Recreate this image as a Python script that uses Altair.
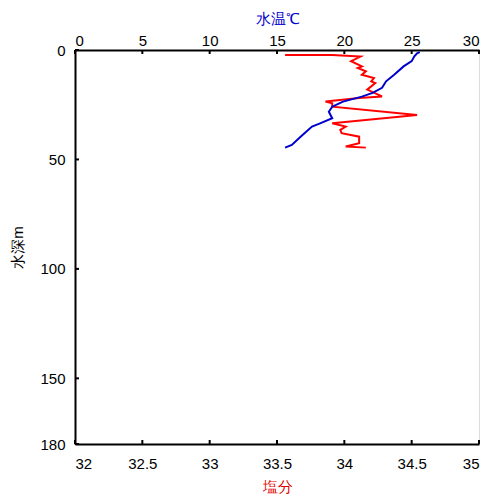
import altair as alt
import pandas as pd

# Water temperature profile (°C) vs depth (m)
temp_depth = [1.0, 1.5, 2.9, 5.1, 7.5, 11.3, 14.3, 17.3, 19.6, 21.3, 23.6, 25.9, 28.2, 31.2, 33.5, 35.0, 39.6, 43.4, 44.6]
temp_vals = [25.6, 25.4, 25.2, 25.0, 24.4, 23.7, 23.1, 22.8, 22.1, 21.3, 19.9, 19.1, 18.85, 19.1, 18.2, 17.6, 16.75, 16.1, 15.6]

# Salinity profile vs depth (m)
sal_depth = [2.3, 2.3, 3.0, 5.1, 7.5, 8.2, 9.7, 11.3, 12.8, 14.3, 15.1, 18.1, 21.2, 21.9, 23.5, 24.3, 25.9, 29.7, 33.5, 35.0, 36.5, 38.0, 39.6, 42.6, 44.1, 44.6]
sal_vals = [33.56, 33.91, 34.12, 34.05, 34.13, 34.10, 34.16, 34.13, 34.22, 34.20, 34.23, 34.17, 34.28, 34.11, 33.86, 33.91, 33.91, 34.54, 33.91, 34.01, 33.97, 33.98, 34.11, 34.11, 34.01, 34.16]

temp_ticks = [0, 5, 10, 15, 20, 25, 30]
sal_ticks = [32, 32.5, 33, 33.5, 34, 34.5, 35]
depth_ticks = [0, 50, 100, 150, 180]

W, H = 404, 394
FONT = "Liberation Sans"

temp_df = pd.DataFrame({"depth": temp_depth, "temp": temp_vals, "i": range(len(temp_vals))})
sal_df = pd.DataFrame({"depth": sal_depth, "sal": sal_vals, "i": range(len(sal_vals))})

y_scale = alt.Scale(domain=[0, 180], reverse=True, nice=False, zero=False)
t_scale = alt.Scale(domain=[0, 30], nice=False, zero=False)
s_scale = alt.Scale(domain=[32, 35], nice=False, zero=False)

y_axis = alt.Axis(values=depth_ticks, title="水深m", grid=False, ticks=False,
                  labelPadding=10, titlePadding=14, domainWidth=2, domainColor="black",
                  labelColor="black", titleColor="black", labelFontSize=15, titleFontSize=15,
                  labelFont=FONT, titleFont=FONT, titleFontWeight="normal")

sal_line = alt.Chart(sal_df).mark_line(color="#FF0000", strokeWidth=2).encode(
    x=alt.X("sal:Q", scale=s_scale,
            axis=alt.Axis(orient="bottom", values=sal_ticks, format="~g", title="塩分", grid=False,
                          ticks=False, labelPadding=12, titlePadding=8, domainWidth=2, domainColor="black",
                          labelColor="black", titleColor="#E00000", labelFontSize=15, titleFontSize=15,
                          labelFont=FONT, titleFont=FONT, titleFontWeight="normal")),
    y=alt.Y("depth:Q", scale=y_scale, axis=y_axis),
    order="i:Q",
)

temp_line = alt.Chart(temp_df).mark_line(color="#0000CC", strokeWidth=2).encode(
    x=alt.X("temp:Q", scale=t_scale,
            axis=alt.Axis(orient="top", values=temp_ticks, title="水温℃", grid=False,
                          ticks=False, labelPadding=2, titlePadding=7, domainWidth=2, domainColor="black",
                          labelColor="black", titleColor="#0000CC", labelFontSize=15, titleFontSize=15,
                          labelFont=FONT, titleFont=FONT, titleFontWeight="normal")),
    y=alt.Y("depth:Q", scale=y_scale, axis=y_axis),
    order="i:Q",
)

# inward tick marks
sal_tick_marks = alt.Chart(pd.DataFrame({"v": sal_ticks})).mark_rule(color="black", strokeWidth=2).encode(
    x=alt.X("v:Q", scale=s_scale, axis=None), y=alt.value(H), y2=alt.value(H - 4))
temp_tick_marks = alt.Chart(pd.DataFrame({"v": temp_ticks})).mark_rule(color="black", strokeWidth=2).encode(
    x=alt.X("v:Q", scale=t_scale, axis=None), y=alt.value(0), y2=alt.value(4))
depth_tick_marks = alt.Chart(pd.DataFrame({"depth": depth_ticks})).mark_rule(color="black", strokeWidth=2).encode(
    y=alt.Y("depth:Q", scale=y_scale, axis=y_axis), x=alt.value(0), x2=alt.value(4))

chart = alt.layer(
    sal_line, temp_line, sal_tick_marks, temp_tick_marks, depth_tick_marks
).resolve_scale(x="independent").resolve_axis(x="independent").properties(
    width=W, height=H, padding={"top": 3, "left": 2, "right": 5, "bottom": 3}
).configure_view(stroke=None).configure(background="white")

chart.save("out.html", embed_options={"renderer": "svg", "actions": False})
